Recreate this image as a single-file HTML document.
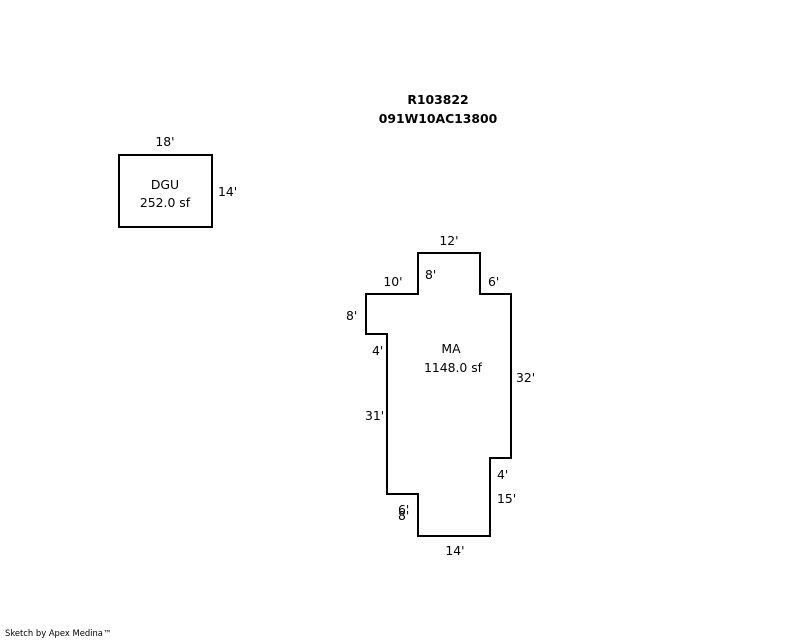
<!DOCTYPE html>
<html><head><style>
html,body{margin:0;padding:0;background:#fff;width:800px;height:640px;overflow:hidden}
svg{display:block}
text{font-family:"DejaVu Sans","Liberation Sans",sans-serif;font-size:12.4px;fill:#000}
</style></head><body>
<svg width="800" height="640" viewBox="0 0 800 640">
<g fill="none" stroke="#000" stroke-width="2">
<rect x="119" y="155" width="93" height="72"/>
<polygon points="418,253 480,253 480,294 511,294 511,458 490,458 490,536 418,536 418,494 387,494 387,334 366,334 366,294 418,294"/>
</g>
<text x="438" y="104" text-anchor="middle" style="font-weight:bold">R103822</text>
<text x="438" y="123" text-anchor="middle" style="font-weight:bold">091W10AC13800</text>
<text x="165" y="146" text-anchor="middle">18'</text>
<text x="218" y="196">14'</text>
<text x="165" y="189" text-anchor="middle">DGU</text>
<text x="165" y="207" text-anchor="middle">252.0 sf</text>
<text x="449" y="245" text-anchor="middle">12'</text>
<text x="393" y="286" text-anchor="middle">10'</text>
<text x="425" y="279">8'</text>
<text x="488" y="286">6'</text>
<text x="346" y="320">8'</text>
<text x="372" y="355">4'</text>
<text x="451" y="353" text-anchor="middle">MA</text>
<text x="453" y="372" text-anchor="middle">1148.0 sf</text>
<text x="516" y="382">32'</text>
<text x="365" y="420">31'</text>
<text x="497" y="479">4'</text>
<text x="497" y="503">15'</text>
<text x="398" y="514">6'</text>
<text x="398" y="520">8'</text>
<text x="455" y="555" text-anchor="middle">14'</text>
<text x="5" y="636" style="font-size:8.4px">Sketch by Apex Medina™</text>
</svg>
</body></html>
